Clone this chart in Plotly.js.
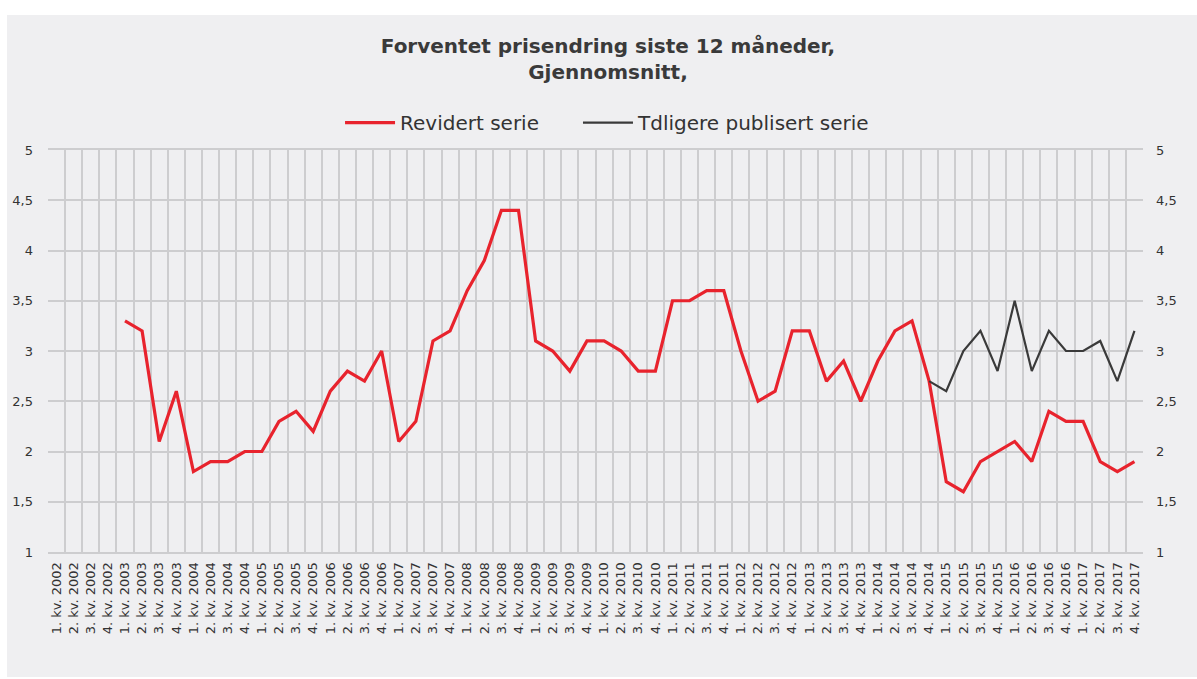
<!DOCTYPE html>
<html>
<head>
<meta charset="utf-8">
<script src="https://cdn.plot.ly/plotly-3.0.1.min.js"></script>
<style>
  html, body { margin: 0; padding: 0; background: #ffffff; }
  #chart { position: absolute; left: 7px; top: 15px; width: 1190px; height: 662px; }
</style>
</head>
<body>
<div id="chart"></div>
<script>
// Quarter labels, 1. kv. 2002 – 4. kv. 2017
const years = [2002, 2003, 2004, 2005, 2006, 2007, 2008, 2009, 2010, 2011, 2012, 2013, 2014, 2015, 2016, 2017];
const quarters = ['1. kv.', '2. kv.', '3. kv.', '4. kv.'];
const categories = [];
years.forEach(y => quarters.forEach(q => categories.push(q + ' ' + y)));

// Revised series (no observations in 2002)
const revidert = [
  null, null, null, null,   // 2002
  3.3, 3.2, 2.1, 2.6,       // 2003
  1.8, 1.9, 1.9, 2.0,       // 2004
  2.0, 2.3, 2.4, 2.2,       // 2005
  2.6, 2.8, 2.7, 3.0,       // 2006
  2.1, 2.3, 3.1, 3.2,       // 2007
  3.6, 3.9, 4.4, 4.4,       // 2008
  3.1, 3.0, 2.8, 3.1,       // 2009
  3.1, 3.0, 2.8, 2.8,       // 2010
  3.5, 3.5, 3.6, 3.6,       // 2011
  3.0, 2.5, 2.6, 3.2,       // 2012
  3.2, 2.7, 2.9, 2.5,       // 2013
  2.9, 3.2, 3.3, 2.7,       // 2014
  1.7, 1.6, 1.9, 2.0,       // 2015
  2.1, 1.9, 2.4, 2.3,       // 2016
  2.3, 1.9, 1.8, 1.9        // 2017
];

// Previously published series, 4. kv. 2014 onwards
const tidligereLabels = categories.slice(51);
const tidligere = [
  2.7,                      // 4. kv. 2014
  2.6, 3.0, 3.2, 2.8,       // 2015
  3.5, 2.8, 3.2, 3.0,       // 2016
  3.0, 3.1, 2.7, 3.2        // 2017
];

const yTicks = [1, 1.5, 2, 2.5, 3, 3.5, 4, 4.5, 5];

const FONT = 'DejaVu Sans, Verdana, sans-serif';
const GRID = '#cdcdcf';
const BG = '#efeff1';

const traces = [
  {
    x: categories, y: revidert, name: 'Revidert serie',
    type: 'scatter', mode: 'lines', connectgaps: false,
    line: { color: '#e8232d', width: 3.2 },
    xaxis: 'x', yaxis: 'y', legend: 'legend'
  },
  {
    x: tidligereLabels, y: tidligere, name: 'Tdligere publisert serie',
    type: 'scatter', mode: 'lines',
    line: { color: '#3a3a3a', width: 2.2 },
    xaxis: 'x', yaxis: 'y2', legend: 'legend2'
  }
];

const axisY = {
  range: [1, 5],
  tickvals: yTicks,
  showgrid: true, gridcolor: GRID, gridwidth: 2,
  zeroline: false,
  showline: false,
  ticks: '',
  tickfont: { family: FONT, size: 13, color: '#333333' },
  fixedrange: true
};

// Shared legend styling; the two entries sit in two legends side by side
const legendStyle = {
  orientation: 'h',
  xanchor: 'left',
  y: 1.068, yanchor: 'middle',
  font: { family: FONT, size: 20, color: '#333333' },
  bgcolor: 'rgba(0,0,0,0)',
  itemwidth: 50
};

const layout = {
  width: 1190, height: 662,
  paper_bgcolor: BG, plot_bgcolor: BG,
  separators: ', ',
  margin: { l: 41, r: 54, t: 135, b: 125 },
  font: { family: FONT, color: '#333333' },
  title: {
    text: '<b>Forventet prisendring siste 12 måneder,<br>Gjennomsnitt,</b>',
    font: { family: FONT, size: 20, color: '#3a3a3a' },
    x: 0.505, xanchor: 'center',
    y: 0.9425, yanchor: 'top', yref: 'container'
  },
  showlegend: true,
  legend: Object.assign({}, legendStyle, { x: 0.2667 }),
  legend2: Object.assign({}, legendStyle, { x: 0.484 }),
  xaxis: {
    type: 'category',
    categoryorder: 'array', categoryarray: categories,
    range: [-0.5, categories.length - 0.5],
    tickson: 'boundaries',
    tickangle: -90,
    ticks: '',
    showgrid: true, gridcolor: GRID, gridwidth: 2,
    showline: true, linecolor: GRID, linewidth: 2, mirror: true,
    tickfont: { family: FONT, size: 13, color: '#333333' },
    ticklabelstandoff: 3,
    fixedrange: true
  },
  yaxis: Object.assign({}, axisY, { side: 'left', ticklabelstandoff: 14 }),
  yaxis2: Object.assign({}, axisY, {
    side: 'right', overlaying: 'y', showgrid: false, ticklabelstandoff: 12
  })
};

Plotly.newPlot('chart', traces, layout, { displayModeBar: false, staticPlot: true });
</script>
</body>
</html>
